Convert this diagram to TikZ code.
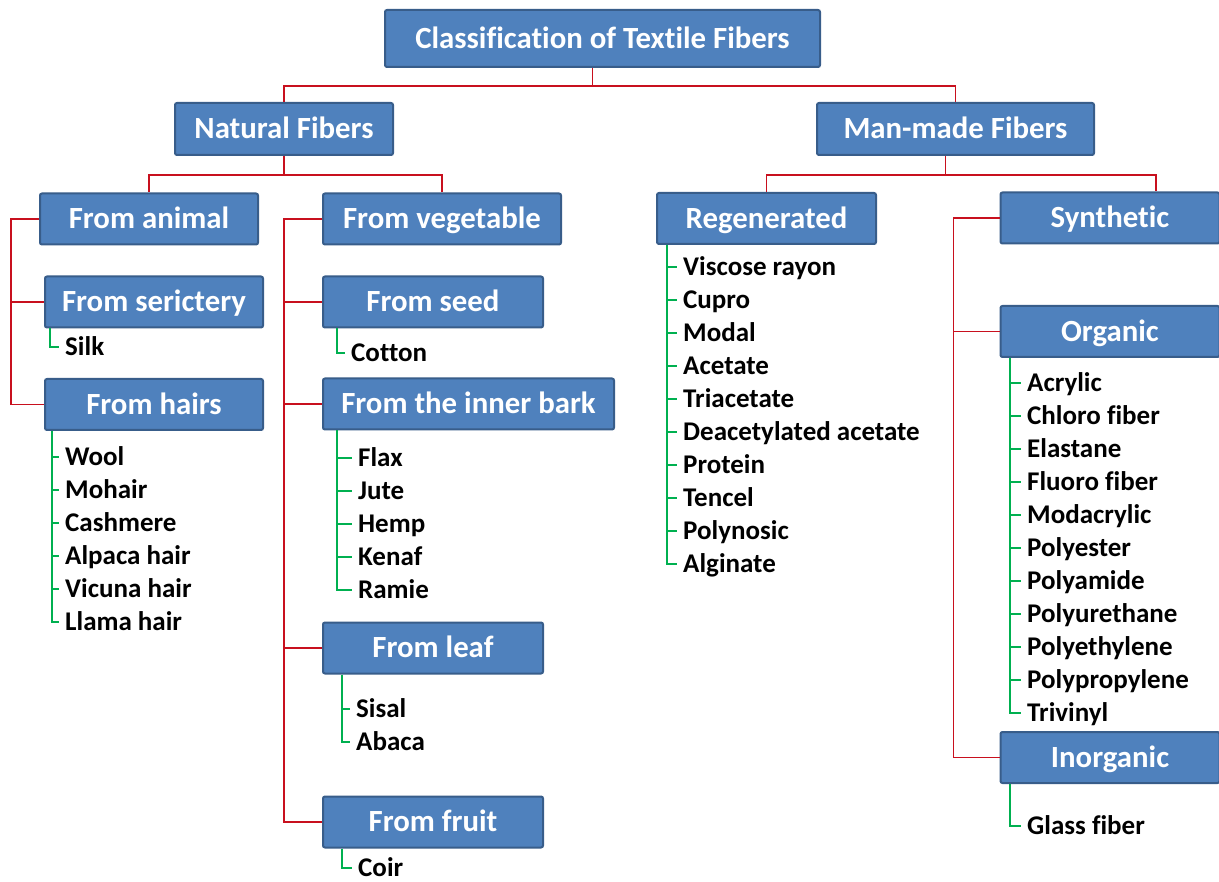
\documentclass[tikz,border=0pt]{standalone}
\usepackage{fontspec}
\setmainfont{Carlito}[Ligatures=NoCommon]
\usetikzlibrary{calc}
\definecolor{boxblue}{RGB}{79,129,189}
\definecolor{boxedge}{RGB}{56,93,138}
\definecolor{stemred}{RGB}{200,16,30}
\definecolor{twiggreen}{RGB}{0,176,80}
\tikzset{
box/.style={draw=boxedge,line width=2pt,fill=boxblue,rounded corners=2pt,text=white,
  font=\fontsize{30.8}{36}\selectfont\bfseries,text height=20pt,text depth=0.7pt,
  minimum height=51pt,minimum width=218pt,inner sep=0pt},
item/.style={anchor=west,inner xsep=6pt,inner ysep=0pt,text height=20pt,text depth=2.6pt,
  font=\fontsize{27}{32}\selectfont\bfseries},
stem/.style={draw=stemred,line width=1.8pt},
twig/.style={draw=twiggreen,line width=1.6pt}
}
\begin{document}
\begin{tikzpicture}[x=1pt,y=-1pt]
\path[use as bounding box,fill=white] (0,0) rectangle (1219,882);
\node[box,minimum width=435pt,minimum height=57pt] (title) at (602.5,38.5) {Classification of Textile Fibers};
\node[box,minimum height=52pt] (natural) at (284,129) {Natural Fibers};
\node[box,minimum width=277pt,minimum height=52pt] (manmade) at (955.5,129) {Man-made Fibers};
\node[box] (animal) at (149,219) {From animal};
\node[box,minimum width=238pt] (vegetable) at (442,219) {From vegetable};
\node[box,minimum width=219pt] (regenerated) at (766.5,218.5) {Regenerated};
\node[box,minimum width=219pt] (synthetic) at (1110,218) {Synthetic};
\node[box] (sericitery) at (154,302) {From serictery};
\node[box] (hairs) at (154,404.5) {From hairs};
\node[box,minimum width=220pt] (seed) at (433,302) {From seed};
\node[box,minimum width=291pt] (bark) at (468.5,404) {From the inner bark};
\node[box,minimum width=220pt] (leaf) at (433,648) {From leaf};
\node[box,minimum width=220pt] (fruit) at (433,822) {From fruit};
\node[box,minimum width=219pt] (organic) at (1110,331.5) {Organic};
\node[box,minimum width=219pt] (inorganic) at (1110,757.5) {Inorganic};

\draw[stem] ([xshift=-10pt]title.south) -- ++(0,18) coordinate (split) -| (natural.north);
\draw[stem] (split) -| (manmade.north);
\draw[stem] (natural.south) -- ++(0,19) coordinate (nsplit) -| (animal.north);
\draw[stem] (nsplit) -| (vegetable.north);
\draw[stem] ([xshift=-10pt]manmade.south) -- ++(0,19) coordinate (msplit) -| (regenerated.north);
\draw[stem] (msplit) -| ([xshift=46pt]synthetic.north);
\foreach \n in {sericitery,hairs}
\draw[stem] (animal.west) -- ++(-28,0) |- (\n.west);
\foreach \n in {seed,bark,leaf,fruit}
\draw[stem] (vegetable.west) -- ++(-38,0) |- (\n.west);
\foreach \n in {organic,inorganic}
\draw[stem] (synthetic.west) -- ++(-46,0) |- (\n.west);

\node[item] (silk) at (59,347) {Silk};
\draw[twig] ([xshift=6pt]sericitery.south west) |- (silk.west);
\foreach \txt [count=\i] in {Wool,Mohair,Cashmere,Alpaca hair,Vicuna hair,Llama hair}
{
\node[item] (hair\i) at (59,424+33*\i) {\txt};
\draw[twig] ([xshift=8pt]hairs.south west) |- (hair\i.west);
}
\node[item] (cotton) at (345,353) {Cotton};
\draw[twig] ([xshift=15pt]seed.south west) |- (cotton.west);
\foreach \txt [count=\i] in {Flax,Jute,Hemp,Kenaf,Ramie}
{
\node[item] (bark\i) at (352,425+33*\i) {\txt};
\draw[twig] ([xshift=15pt]bark.south west) |- (bark\i.west);
}
\foreach \txt [count=\i] in {Sisal,Abaca}
{
\node[item] (leaf\i) at (350,676+33*\i) {\txt};
\draw[twig] ([xshift=20pt]leaf.south west) |- (leaf\i.west);
}
\node[item] (coir) at (352,868) {Coir};
\draw[twig] ([xshift=20pt]fruit.south west) |- (coir.west);
\foreach \txt [count=\i] in {Viscose rayon,Cupro,Modal,Acetate,Triacetate,Deacetylated acetate,Protein,Tencel,Polynosic,Alginate}
{
\node[item] (reg\i) at (677,234+33*\i) {\txt};
\draw[twig] ([xshift=11pt]regenerated.south west) |- (reg\i.west);
}
\foreach \txt [count=\i] in {Acrylic,Chloro fiber,Elastane,Fluoro fiber,Modacrylic,Polyester,Polyamide,Polyurethane,Polyethylene,Polypropylene,Trivinyl}
{
\node[item] (org\i) at (1021,350+33*\i) {\txt};
\draw[twig] ([xshift=10.5pt]organic.south west) |- (org\i.west);
}
\node[item] (glass) at (1021,826) {Glass fiber};
\draw[twig] ([xshift=10.5pt]inorganic.south west) |- (glass.west);
\end{tikzpicture}
\end{document}
